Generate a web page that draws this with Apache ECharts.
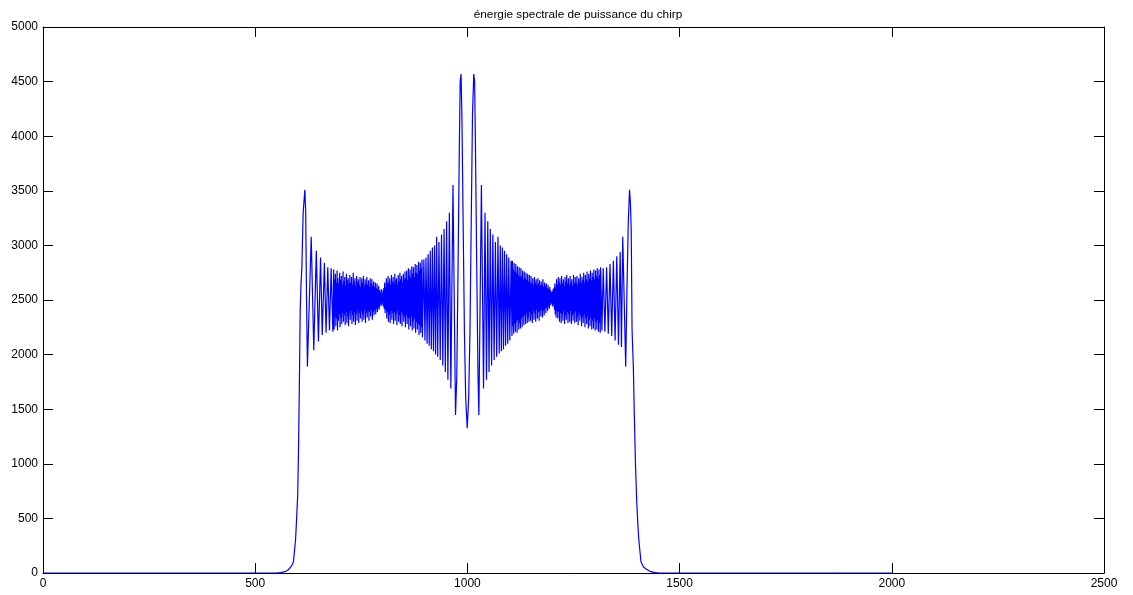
<!DOCTYPE html>
<html>
<head>
<meta charset="utf-8">
<script src="https://cdn.jsdelivr.net/npm/echarts@6/dist/echarts.min.js"></script>
<style>
  html, body { margin: 0; padding: 0; background: #fff; }
  #main { width: 1133px; height: 595px; }
</style>
</head>
<body>
<div id="main"></div>
<script>
// x ticks 0..2500, y ticks 0..5000, both every 500
const xMax = 2500
const yMax = 5000
const tickStep = 500

// flat part + rising edge + first ripples, [x, value]
const edgeLeft = [
  [0, 0], [550, 0], [560, 4], [570, 12], [578, 30], [585, 60], [590, 100],
  [595, 300], [597, 450], [600, 700], [602, 1100], [604, 1700], [606, 2400],
  [608, 2650], [610, 2800], [613, 3300], [617, 3510], [619, 3300], [621, 2500],
  [623, 1890], [632, 3080], [638, 2040], [644, 2950], [649, 2120], [654, 2890],
  [658, 2180], [663, 2840], [667, 2200], [671, 2800], [675, 2220], [679, 2790],
  [683, 2210]
]

// dense ripple, one value per sample from 685 to 894
const denseLeftStart = 685
const denseLeft = [
  2780, 2230, 2690, 2350, 2740, 2260, 2660, 2330, 2770, 2220,
  2700, 2310, 2650, 2370, 2750, 2250, 2680, 2340, 2720, 2280,
  2640, 2380, 2760, 2300, 2670, 2360, 2710, 2270, 2630, 2390,
  2740, 2290, 2680, 2350, 2700, 2260, 2650, 2380, 2730, 2320,
  2660, 2400, 2710, 2280, 2640, 2360, 2750, 2300, 2670, 2390,
  2700, 2270, 2630, 2370, 2720, 2310, 2660, 2400, 2690, 2290,
  2640, 2380, 2710, 2330, 2620, 2400, 2700, 2300, 2660, 2370,
  2720, 2320, 2630, 2410, 2690, 2290, 2650, 2380, 2710, 2340,
  2640, 2400, 2680, 2310, 2620, 2390, 2700, 2350, 2650, 2410,
  2690, 2320, 2630, 2390, 2670, 2360, 2620, 2410, 2660, 2370,
  2610, 2420, 2650, 2390, 2600, 2430, 2630, 2410, 2590, 2440,
  2570, 2460, 2600, 2450, 2560, 2470, 2590, 2440, 2610, 2420,
  2660, 2380, 2620, 2410, 2700, 2330, 2650, 2390, 2720, 2300,
  2660, 2370, 2700, 2290, 2640, 2400, 2730, 2320, 2670, 2380,
  2710, 2280, 2650, 2390, 2740, 2310, 2680, 2370, 2700, 2270,
  2640, 2400, 2730, 2300, 2670, 2360, 2750, 2280, 2690, 2390,
  2720, 2260, 2660, 2370, 2740, 2300, 2690, 2350, 2760, 2250,
  2700, 2360, 2770, 2280, 2680, 2340, 2790, 2230, 2720, 2330,
  2780, 2260, 2700, 2350, 2810, 2220, 2740, 2310, 2800, 2240,
  2710, 2330, 2830, 2200, 2750, 2300, 2820, 2230, 2740, 2280,
  2850, 2180, 2770, 2270, 2840, 2200, 2790, 2250, 2870, 2160
]

// centre: widening ripples and the two main lobes
const centre = [
  [897.5, 2870], [900, 2130], [902.5, 2890], [905, 2100],
  [907.5, 2920], [910, 2080], [912.5, 2950], [915, 2050], [917.5, 2980],
  [920, 2030], [922.5, 3000], [925, 2000], [927.5, 3080], [930, 1980],
  [933, 3030], [936, 1950], [939, 3100], [942, 1900], [945, 3150],
  [948, 1840], [951, 3220], [954, 1770], [957.5, 3300], [961, 1690],
  [966, 3553], [972, 1447], [975, 1800], [978, 2800], [981, 3900],
  [983, 4500], [985, 4570], [987, 4200], [990, 3200], [993, 2200],
  [996, 1600], [999.5, 1325], [1003, 1600], [1006, 2200], [1009, 3200],
  [1012, 4200], [1015, 4570], [1017, 4500], [1019, 3900], [1022, 2800],
  [1025, 1800], [1027, 1447], [1033, 3553], [1038, 1690], [1041.5, 3300],
  [1045, 1770], [1048, 3220], [1051, 1840], [1054, 3150], [1057, 1900],
  [1060, 3100], [1063, 1950], [1066, 3030], [1069, 1980], [1072, 3080],
  [1075, 2010], [1077.5, 3000], [1080, 2030], [1082.5, 2980], [1085, 2050],
  [1087.5, 2950], [1090, 2080], [1092.5, 2920], [1095, 2100], [1097.5, 2890],
  [1100, 2130], [1103, 2860]
]

// dense ripple, one value per sample from 1105 to 1314
const denseRightStart = 1105
const denseRight = [
  2170, 2860, 2260, 2780, 2190, 2840, 2280, 2760, 2210, 2830,
  2300, 2750, 2200, 2810, 2320, 2730, 2230, 2800, 2290, 2710,
  2240, 2790, 2330, 2720, 2250, 2770, 2350, 2690, 2270, 2760,
  2360, 2700, 2280, 2750, 2380, 2680, 2290, 2740, 2340, 2670,
  2300, 2730, 2390, 2660, 2310, 2720, 2370, 2650, 2290, 2700,
  2400, 2640, 2320, 2710, 2380, 2660, 2300, 2690, 2410, 2640,
  2330, 2700, 2390, 2650, 2310, 2680, 2400, 2630, 2350, 2670,
  2410, 2640, 2340, 2690, 2400, 2620, 2360, 2660, 2420, 2630,
  2380, 2650, 2430, 2610, 2400, 2640, 2440, 2600, 2420, 2620,
  2450, 2590, 2470, 2570, 2460, 2580, 2440, 2600, 2460, 2610,
  2410, 2650, 2370, 2620, 2340, 2690, 2400, 2640, 2330, 2710,
  2390, 2660, 2300, 2700, 2380, 2640, 2290, 2720, 2370, 2650,
  2310, 2690, 2400, 2630, 2280, 2710, 2360, 2670, 2320, 2730,
  2390, 2650, 2290, 2700, 2370, 2640, 2300, 2720, 2400, 2660,
  2280, 2690, 2360, 2630, 2310, 2730, 2380, 2650, 2290, 2710,
  2400, 2660, 2300, 2720, 2350, 2640, 2270, 2700, 2380, 2670,
  2310, 2740, 2360, 2650, 2260, 2710, 2340, 2680, 2290, 2750,
  2370, 2660, 2250, 2730, 2330, 2690, 2280, 2760, 2350, 2670,
  2240, 2740, 2320, 2700, 2260, 2770, 2340, 2680, 2230, 2750,
  2310, 2710, 2240, 2780, 2330, 2690, 2220, 2770, 2300, 2720,
  2230, 2790, 2320, 2700, 2210, 2780, 2290, 2730, 2200, 2800
]

const edgeRight = [
  [1317, 2220], [1320, 2790], [1324, 2210], [1328, 2800], [1332, 2190],
  [1336, 2830], [1340, 2170], [1344, 2860], [1348, 2130], [1352, 2900],
  [1356, 2090], [1360, 2940], [1363, 2070], [1366, 3080], [1373, 1890],
  [1376, 2600], [1379, 3200], [1382, 3510], [1384, 3400], [1386, 3140],
  [1388, 2225], [1391, 1890], [1393, 1500], [1396, 1000], [1399, 650],
  [1402, 420], [1404, 300], [1409, 103], [1415, 55], [1422, 34],
  [1430, 15], [1440, 5], [1452, 0], [2000, 0]
]

const dense = (start, vals) => vals.map((v, i) => [start + i, v])
const psd = [].concat(
  edgeLeft,
  dense(denseLeftStart, denseLeft),
  centre,
  dense(denseRightStart, denseRight),
  edgeRight
)

const font = 'Liberation Sans, Arial, sans-serif'
const boxLine = { show: true, onZero: false, lineStyle: { color: '#000', width: 1 } }
const innerTick = { show: true, inside: true, length: 10, lineStyle: { color: '#000' } }
const plain = v => String(v)

const chart = echarts.init(document.getElementById('main'), null, { renderer: 'canvas' })
chart.setOption({
  animation: false,
  backgroundColor: '#fff',
  title: {
    text: 'énergie spectrale de puissance du chirp',
    left: 573,
    textAlign: 'center',
    top: 4,
    textStyle: { fontFamily: font, fontSize: 11.8, fontWeight: 'normal', color: '#000' }
  },
  grid: {
    left: 43, right: 29, top: 27, bottom: 22,
    containLabel: false,
    outerBoundsMode: 'none'
  },
  xAxis: [
    {
      type: 'value', position: 'bottom',
      min: 0, max: xMax, interval: tickStep,
      axisLine: boxLine, axisTick: innerTick,
      splitLine: { show: false },
      axisLabel: { color: '#000', fontFamily: font, fontSize: 12, margin: 5, formatter: plain, showMinLabel: true, showMaxLabel: true }
    },
    {
      type: 'value', position: 'top',
      min: 0, max: xMax, interval: tickStep,
      axisLine: boxLine, axisTick: innerTick,
      splitLine: { show: false },
      axisLabel: { show: false }
    }
  ],
  yAxis: [
    {
      type: 'value', position: 'left',
      min: 0, max: yMax, interval: tickStep,
      axisLine: boxLine, axisTick: innerTick,
      splitLine: { show: false },
      axisLabel: { color: '#000', fontFamily: font, fontSize: 12, margin: 5, formatter: plain, showMinLabel: true, showMaxLabel: true }
    },
    {
      type: 'value', position: 'right',
      min: 0, max: yMax, interval: tickStep,
      axisLine: boxLine, axisTick: innerTick,
      splitLine: { show: false },
      axisLabel: { show: false }
    }
  ],
  series: [
    {
      type: 'line',
      xAxisIndex: 0,
      yAxisIndex: 0,
      data: psd,
      showSymbol: false,
      symbol: 'none',
      sampling: null,
      lineStyle: { color: '#0000ff', width: 1.2 },
      emphasis: { disabled: true }
    }
  ]
})
</script>
</body>
</html>
